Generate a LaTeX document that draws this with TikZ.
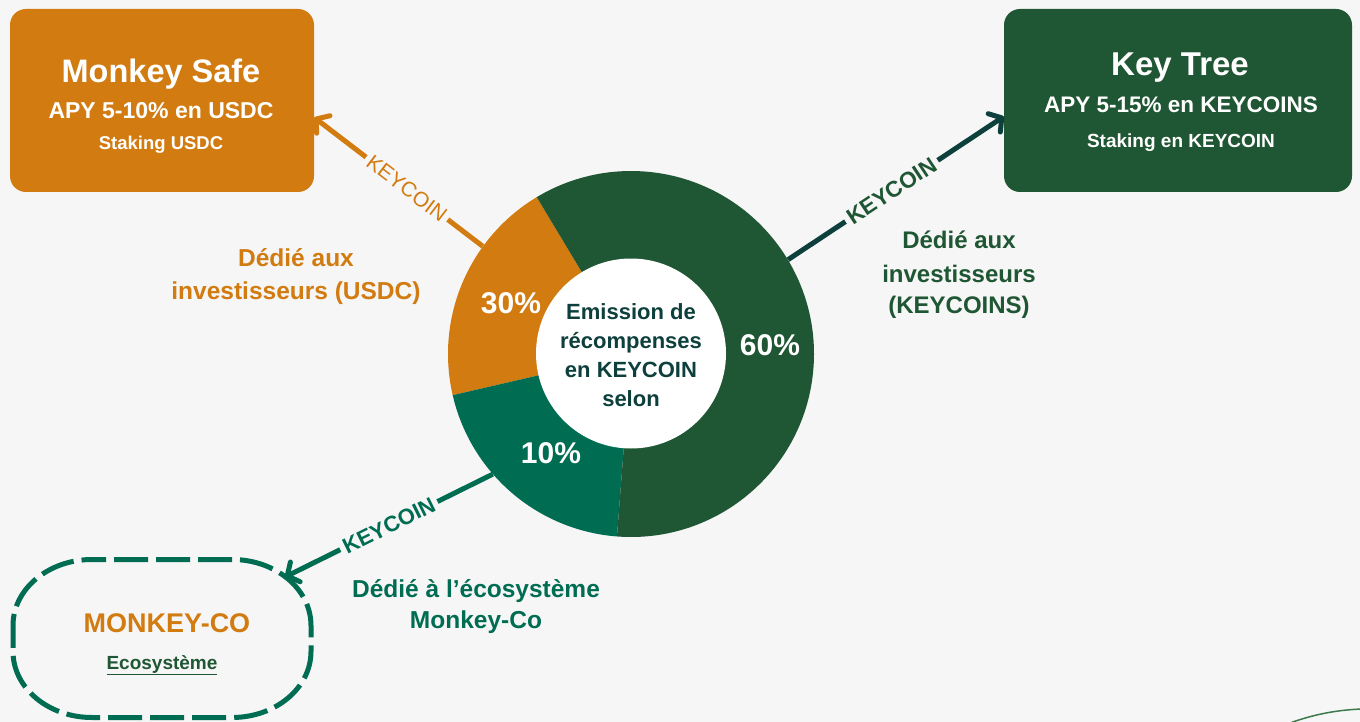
\documentclass[tikz,border=0pt]{standalone}
\usepackage{fontspec}
\setmainfont{Liberation Sans}
\usetikzlibrary{arrows.meta,calc}
\definecolor{bg}{HTML}{F6F6F6}
\definecolor{cor}{HTML}{D27B10}
\definecolor{cdg}{HTML}{1F5633}
\definecolor{cteal}{HTML}{006D53}
\definecolor{cdark}{HTML}{0D3F3C}
\definecolor{carc}{HTML}{3C7A4C}
\newcommand{\fsz}[1]{\fontsize{#1}{#1}\selectfont}
\begin{document}
\begin{tikzpicture}[x=1pt,y=-1pt,
  txt/.style={anchor=base, inner sep=0pt, font=\bfseries\fsz{#1}},
  card/.style={rounded corners=16pt, inner sep=0pt, minimum height=183pt},
  link/.style={line width=5pt, -{Straight Barb[length=9pt,width=22pt,round]}},
  lab/.style={sloped, fill=bg, inner sep=4pt}]
\fill[bg] (0,0) rectangle (1360,722);
\useasboundingbox (0,0) rectangle (1360,722);

% cards
\node[card, fill=cor, minimum width=304pt] (safe) at (162,100.5) {};
\node[card, fill=cdg, minimum width=348pt] (tree) at (1178,100.5) {};
\node[minimum width=299pt, minimum height=160pt, inner sep=0pt] (mco) at (161.5,638.5) {};
\draw[cteal, line width=5pt, dash pattern=on 34pt off 8pt, dash phase=20pt]
  (92,559.5) -- (232,559.5)
  arc[start angle=-90, end angle=0, x radius=79, y radius=66] -- (311,651.5)
  arc[start angle=0, end angle=90, x radius=79, y radius=66] -- (92,717.5)
  arc[start angle=90, end angle=180, x radius=79, y radius=66] -- (13,625.5)
  arc[start angle=180, end angle=270, x radius=79, y radius=66] -- cycle;

\node[txt=32.5, text=white] (safe1) at (161,83) {Monkey Safe};
\node[txt=23, text=white] (safe2) at (161,119) {APY 5-10\% en USDC};
\node[txt=18.5, text=white] (safe3) at (161,150) {Staking USDC};

\node[txt=33, text=white] (tree1) at (1180,76) {Key Tree};
\node[txt=22.5, text=white] (tree2) at (1181,113) {APY 5-15\% en KEYCOINS};
\node[txt=19, text=white] (tree3) at (1181,148) {Staking en KEYCOIN};

\node[txt=27, text=cor] (mco1) at (167,632) {MONKEY-CO};
\node[txt=19, text=cdg] (mco2) at (162,669) {\underline{Ecosystème}};

% donut
\coordinate (c) at (631,354);
\fill[cor] (c) -- +(-121:183) arc[start angle=-121,end angle=-193,radius=183] -- cycle;
\fill[cteal] (c) -- +(-193:183) arc[start angle=-193,end angle=-265.6,radius=183] -- cycle;
\fill[cdg] (c) -- +(-265.6:183) arc[start angle=-265.6,end angle=-481,radius=183] -- cycle;
\fill[white] (631,353.5) circle[radius=95];
\node[circle, minimum size=366pt, inner sep=0pt] (donut) at (c) {};

\node[txt=22, text=cdark] (e1) at (631,319) {Emission de};
\node[txt=22, text=cdark] (e2) at (631,348) {récompenses};
\node[txt=22, text=cdark] (e3) at (631,377) {en KEYCOIN};
\node[txt=22, text=cdark] (e4) at (631,406) {selon};

\node[txt=30, text=white] (p30) at (511,313) {30\%};
\node[txt=30, text=white] (p60) at (770,355) {60\%};
\node[txt=30, text=white] (p10) at (551,463) {10\%};

% labels
\node[txt=24.5, text=cor] (l1a) at (296,266) {Dédié aux};
\node[txt=24.5, text=cor] (l1b) at (296,299) {investisseurs (USDC)};
\node[txt=24, text=cdg] (l2a) at (959,248) {Dédié aux};
\node[txt=24, text=cdg] (l2b) at (959,282) {investisseurs};
\node[txt=24, text=cdg] (l2c) at (959,313) {(KEYCOINS)};
\node[txt=24.5, text=cteal] (l3a) at (476,597) {Dédié à l’écosystème};
\node[txt=24.5, text=cteal] (l3b) at (476,628) {Monkey-Co};

% connectors
\coordinate (mcotip) at (285,577);
\draw[link, cor] (donut.144) -- node[lab, pos=0.45, text=cor, font=\fsz{21}] (k1) {KEYCOIN} ([yshift=-17pt]safe.east);
\draw[link, cdark] (donut.31) -- node[lab, pos=0.48, text=cdg, font=\bfseries\fsz{22.5}] (k2) {KEYCOIN} ([yshift=-16pt]tree.west);
\draw[link, cteal] (donut.221) -- node[lab, pos=0.5, text=cteal, font=\bfseries\fsz{22}] (k3) {KEYCOIN} (mcotip);

% decorative arc
\draw[carc, line width=1.5pt] (1290,723) .. controls (1312,715) and (1335,710) .. (1362,709);
\end{tikzpicture}
\end{document}
